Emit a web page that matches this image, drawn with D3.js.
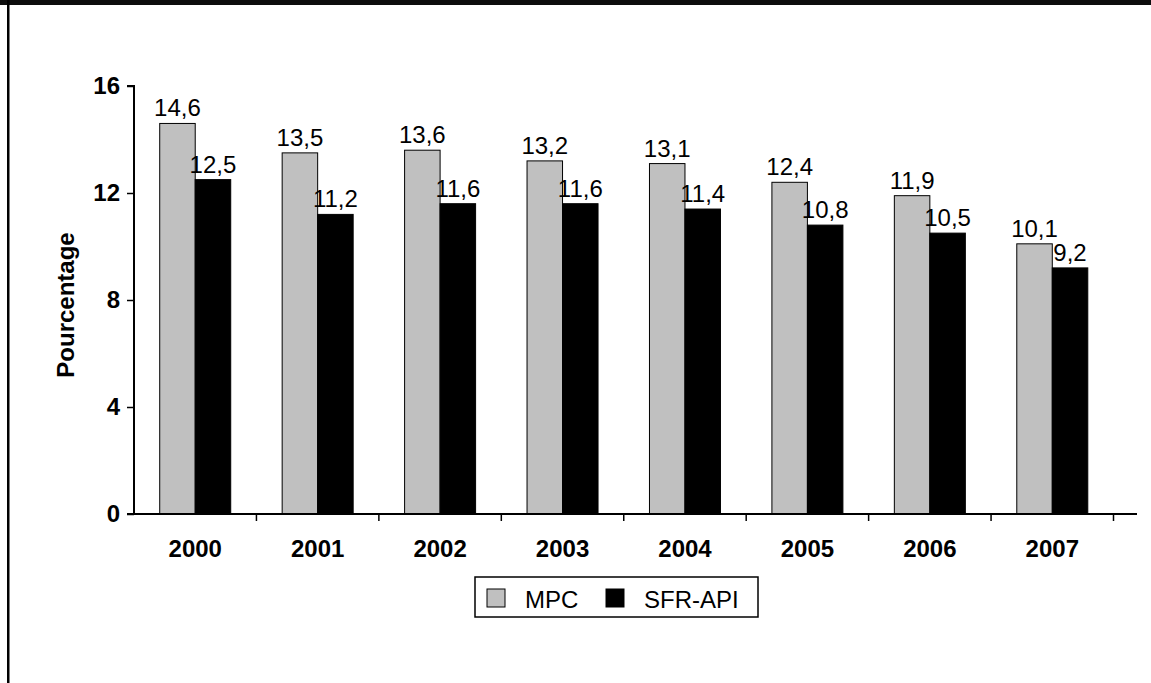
<!DOCTYPE html>
<html>
<head>
<meta charset="utf-8">
<script src="https://cdn.jsdelivr.net/npm/d3@7"></script>
<style>
body{margin:0;background:#fff;}
svg{display:block;font-family:"Liberation Sans",Arial,sans-serif;}
</style>
</head>
<body>
<svg id="chart" width="1151" height="683"></svg>
<script>
const years = ["2000","2001","2002","2003","2004","2005","2006","2007"];
const mpc = [14.6,13.5,13.6,13.2,13.1,12.4,11.9,10.1];
const sfr = [12.5,11.2,11.6,11.6,11.4,10.8,10.5,9.2];
const seriesNames = ["MPC","SFR-API"];
const seriesColors = ["#c0c0c0","#000000"];
const yTicks = [0,4,8,12,16];

const svg = d3.select("#chart");
const FS = 24;
// frame
svg.append("rect").attr("x",0).attr("y",0).attr("width",1151).attr("height",5).attr("fill","#0d0d0d");
svg.append("rect").attr("x",7).attr("y",0).attr("width",2.5).attr("height",683).attr("fill","#000");

const pLeft=134, pRight=1113.5, axisEnd=1137, pTop=86, pBottom=514;
const x = d3.scaleBand().domain(years).range([pLeft,pRight]);
const y = d3.scaleLinear().domain([0,16]).range([pBottom,pTop]);
const barW = 35.5;

// bars
const series = [mpc,sfr];
series.forEach((vals,si)=>{
  svg.append("g").selectAll("rect").data(vals).join("rect")
    .attr("x",(d,i)=>x(years[i])+x.bandwidth()/2-barW+si*barW)
    .attr("y",d=>y(d))
    .attr("width",barW)
    .attr("height",d=>y(0)-y(d))
    .attr("fill",seriesColors[si])
    .attr("stroke","#000").attr("stroke-width",1);
  svg.append("g").selectAll("text").data(vals).join("text")
    .attr("x",(d,i)=>x(years[i])+x.bandwidth()/2-barW/2+si*barW)
    .attr("y",d=>y(d)-7)
    .attr("text-anchor","middle")
    .attr("font-size",FS)
    .text(d=>String(d).replace(".",","));
});

// y axis
const yAxis = svg.append("g").attr("transform",`translate(${pLeft},0)`)
  .call(d3.axisLeft(y).tickValues(yTicks).tickSize(7).tickPadding(7));
yAxis.select(".domain").attr("stroke","#000").attr("stroke-width",2).attr("d",`M-7,${pTop}H0V${pBottom}`);
yAxis.selectAll(".tick line").attr("stroke-width",1.5);
yAxis.selectAll("text").attr("font-size",FS).attr("font-weight","bold").attr("font-family","Liberation Sans, Arial, sans-serif").attr("fill","#000");

// x axis
const xAxis = svg.append("g").attr("transform",`translate(0,${pBottom})`)
  .call(d3.axisBottom(x).tickSize(0).tickPadding(26));
xAxis.select(".domain").attr("stroke","#000").attr("stroke-width",2).attr("d",`M${pLeft-7},0H${axisEnd}`);
xAxis.selectAll("text").attr("font-size",FS).attr("font-weight","bold").attr("font-family","Liberation Sans, Arial, sans-serif").attr("fill","#000");
// x tick marks at band boundaries
svg.append("g").selectAll("line").data(years).join("line")
  .attr("x1",d=>x(d)+x.bandwidth()).attr("x2",d=>x(d)+x.bandwidth())
  .attr("y1",pBottom).attr("y2",pBottom+7).attr("stroke","#000").attr("stroke-width",1.5);

// y title
svg.append("text").attr("transform","translate(74,305) rotate(-90)")
  .attr("text-anchor","middle").attr("font-size",FS).attr("font-weight","bold").text("Pourcentage");

// legend
const lg = svg.append("g");
lg.append("rect").attr("x",475).attr("y",577).attr("width",283).attr("height",40).attr("fill","#fff").attr("stroke","#000").attr("stroke-width",1.5);
const lx = [487,606];
seriesNames.forEach((n,i)=>{
  lg.append("rect").attr("x",lx[i]).attr("y",589).attr("width",18).attr("height",18).attr("fill",seriesColors[i]).attr("stroke","#000").attr("stroke-width",1);
  lg.append("text").attr("x",lx[i]+38).attr("y",608).attr("font-size",FS).text(n);
});
</script>
</body>
</html>
